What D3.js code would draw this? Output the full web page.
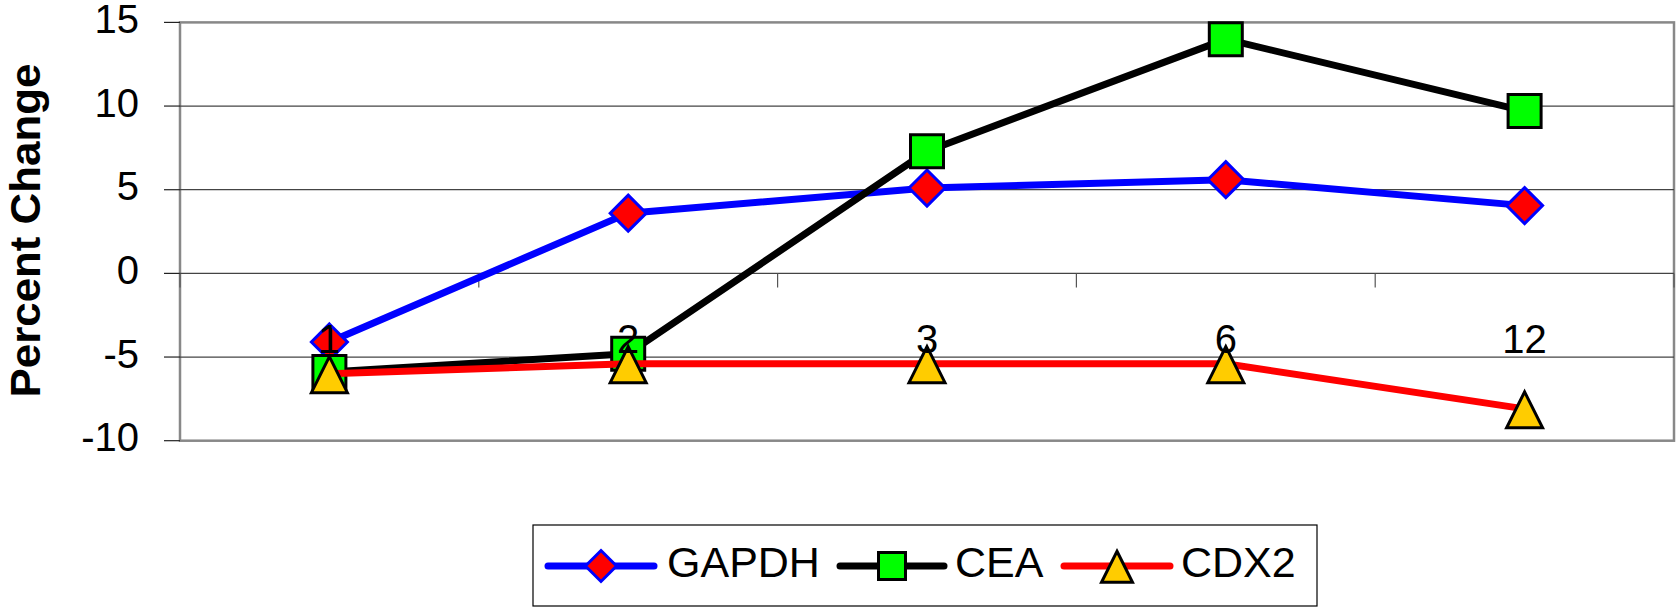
<!DOCTYPE html>
<html>
<head>
<meta charset="utf-8">
<script src="https://cdn.jsdelivr.net/npm/d3@7/dist/d3.min.js"></script>
<style>
  html, body { margin: 0; padding: 0; background: #fff; }
  svg { display: block; }
  text { font-family: "Liberation Sans", Arial, sans-serif; fill: #000; }
</style>
</head>
<body>
<svg id="chart" width="1676" height="610"></svg>
<script>
// Months after treatment
const categories = ["1", "2", "3", "6", "12"];
// Percent change per marker
const gapdh = [-4.1, 3.6, 5.1, 5.6, 4.05];
const cea   = [-5.9, -4.8, 7.3, 14.0, 9.7];
const cdx2  = [-6.0, -5.4, -5.4, -5.4, -8.1];
const yTicks = [-10, -5, 0, 5, 10, 15];
const yTitle = "Percent Change";

const series = [
  { name: "GAPDH", values: gapdh, line: "#0000FF", fill: "#FF0000", stroke: "#0000FF", shape: "diamond" },
  { name: "CEA",   values: cea,   line: "#000000", fill: "#00FF00", stroke: "#000000", shape: "square" },
  { name: "CDX2",  values: cdx2,  line: "#FF0000", fill: "#FFCC00", stroke: "#000000", shape: "triangle" }
];

const svg = d3.select("#chart");
const plot = { left: 180, right: 1674, top: 22.4, bottom: 440.7 };

const x = d3.scaleBand().domain(categories).range([plot.left, plot.right]).padding(0);
const cx = c => x(c) + x.bandwidth() / 2;
const y = d3.scaleLinear().domain([-10, 15]).range([plot.bottom, plot.top]);

// Marker outlines centred on the data point
function markerPath(shape, s) {
  const p = d3.path();
  if (shape === "diamond") {
    p.moveTo(0, -s); p.lineTo(s, 0); p.lineTo(0, s); p.lineTo(-s, 0); p.closePath();
  } else if (shape === "square") {
    p.rect(-s, -s, 2 * s, 2 * s);
  } else {
    p.moveTo(0, -s * 0.95); p.lineTo(s, s * 1.05); p.lineTo(-s, s * 1.05); p.closePath();
  }
  return p.toString();
}

// Plot area frame
svg.append("rect")
  .attr("x", plot.left).attr("y", plot.top)
  .attr("width", plot.right - plot.left).attr("height", plot.bottom - plot.top)
  .attr("fill", "#fff").attr("stroke", "#888").attr("stroke-width", 2.5);

// Horizontal gridlines
svg.append("g").selectAll("line")
  .data(yTicks.filter(t => t > -10 && t < 15))
  .join("line")
  .attr("x1", plot.left).attr("x2", plot.right)
  .attr("y1", d => y(d)).attr("y2", d => y(d))
  .attr("stroke", "#444").attr("stroke-width", 1.2);

// Value axis: tick marks and labels
const yAxis = svg.append("g");
yAxis.selectAll("line").data(yTicks).join("line")
  .attr("x1", plot.left - 16).attr("x2", plot.left)
  .attr("y1", d => y(d)).attr("y2", d => y(d))
  .attr("stroke", "#222").attr("stroke-width", 1.2);
yAxis.selectAll("text").data(yTicks).join("text")
  .attr("x", 139).attr("y", d => y(d) + 10.5)
  .attr("text-anchor", "end")
  .attr("font-size", 40)
  .text(d => d);

// Category boundary ticks hanging from the zero line
const bounds = categories.map(c => x(c)).concat([plot.right]);
svg.append("g").selectAll("line").data(bounds).join("line")
  .attr("x1", d => d).attr("x2", d => d)
  .attr("y1", y(0)).attr("y2", y(0) + 14)
  .attr("stroke", "#555").attr("stroke-width", 1.2);

// Axis title
svg.append("text")
  .attr("transform", `translate(40, ${(63 + 398) / 2}) rotate(-90)`)
  .attr("text-anchor", "middle")
  .attr("font-size", 42).attr("font-weight", "bold")
  .attr("textLength", 334).attr("lengthAdjust", "spacingAndGlyphs")
  .text(yTitle);

// Series: line then markers
const line = d3.line().x((d, i) => cx(categories[i])).y(d => y(d));
series.forEach(s => {
  const g = svg.append("g");
  g.append("path")
    .attr("d", line(s.values))
    .attr("fill", "none").attr("stroke", s.line).attr("stroke-width", 7)
    .attr("stroke-linejoin", "round");
  g.selectAll("path.m").data(s.values).join("path")
    .attr("class", "m")
    .attr("transform", (d, i) => `translate(${cx(categories[i])},${y(d)})`)
    .attr("d", markerPath(s.shape, s.shape === "square" ? 16.5 : 18))
    .attr("fill", s.fill).attr("stroke", s.stroke).attr("stroke-width", 3)
    .attr("stroke-linejoin", "miter");
});

// Category labels
svg.append("g").selectAll("text").data(categories).join("text")
  .attr("x", d => cx(d)).attr("y", 353)
  .attr("text-anchor", "middle")
  .attr("font-size", 40)
  .text(d => d);

// Legend
const legend = svg.append("g");
legend.append("rect")
  .attr("x", 533).attr("y", 525).attr("width", 784).attr("height", 81)
  .attr("fill", "#fff").attr("stroke", "#000").attr("stroke-width", 1.2);
const legendItems = [
  { x0: 548, x1: 654, tx: 667 },
  { x0: 840, x1: 944, tx: 955 },
  { x0: 1064, x1: 1170, tx: 1181 }
];
const ly = 566;
series.forEach((s, i) => {
  const it = legendItems[i];
  legend.append("line")
    .attr("x1", it.x0).attr("x2", it.x1).attr("y1", ly).attr("y2", ly)
    .attr("stroke", s.line).attr("stroke-width", 7).attr("stroke-linecap", "round");
  legend.append("path")
    .attr("transform", `translate(${(it.x0 + it.x1) / 2},${ly})`)
    .attr("d", markerPath(s.shape, s.shape === "square" ? 13.5 : 15.5))
    .attr("fill", s.fill).attr("stroke", s.stroke).attr("stroke-width", 3);
  legend.append("text")
    .attr("x", it.tx).attr("y", 577)
    .attr("font-size", 43)
    .text(s.name);
});
</script>
</body>
</html>
